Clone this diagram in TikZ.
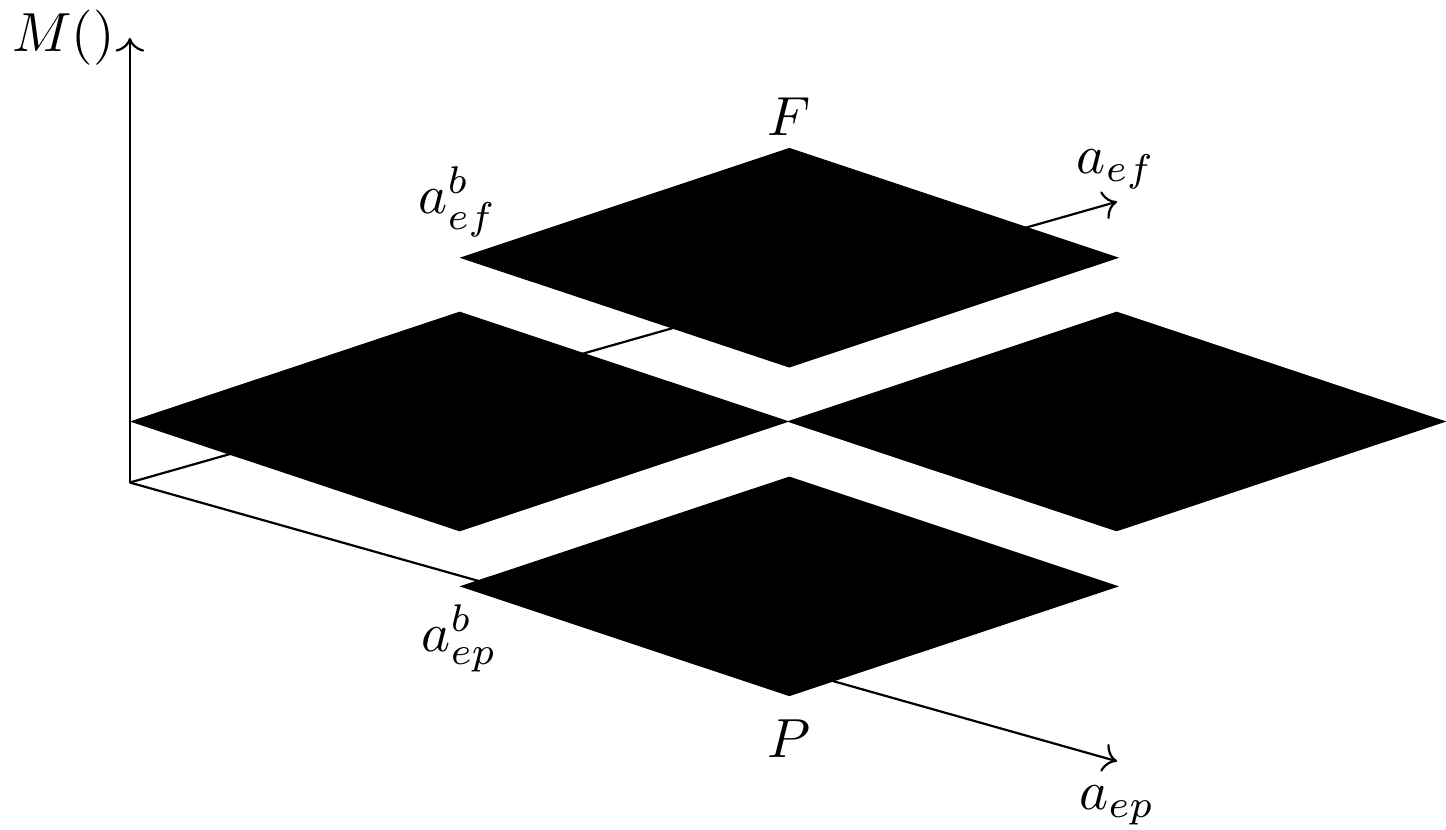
\documentclass[tikz,border=0pt]{standalone}
\usepackage{amsmath}
\usetikzlibrary{arrows.meta}
\tikzset{plane/.style={fill=black}}
% flat diamond around a centre
\newcommand{\slab}[1]{\fill[plane] (#1) ++(-2.102,0) -- ++(2.102,.70) -- ++(2.102,-.70) -- ++(-2.102,-.70) -- cycle;}

\begin{document}
\begin{tikzpicture}[every node/.style={inner sep=0pt}]
\useasboundingbox (-.828,-2.21) rectangle (8.39,3.076);
\coordinate (O) at (0,0);
\coordinate (Mtop) at (0,2.834);
\coordinate (ep) at (6.293,-1.777);
\coordinate (ef) at (6.293,1.79);
\draw[->] (O)--(Mtop);
\draw[->] (O)--(ep);
\draw[->] (O)--(ef);
\node (Mlab) at (-.424,2.838) {$M()$};
\node (eplab) at (6.293,-2.057) {$a_{ep}$};
\node (eflab) at (6.287,1.994) {$a_{ef}$};
% the four planes
\coordinate (Fc) at (4.204,1.433);
\coordinate (Lc) at (2.102,.389);
\coordinate (Rc) at (6.29,.389);
\coordinate (Pc) at (4.204,-.662);
\slab{Fc}
\slab{Lc}
\slab{Rc}
\slab{Pc}
\node (Flab) at (4.204,2.334) {$F$};
\node (Plab) at (4.204,-1.631) {$P$};
\node (efb) at (2.09,1.79) {$a_{ef}^b$};
\node (epb) at (2.10,-.994) {$a_{ep}^b$};
\end{tikzpicture}
\end{document}
